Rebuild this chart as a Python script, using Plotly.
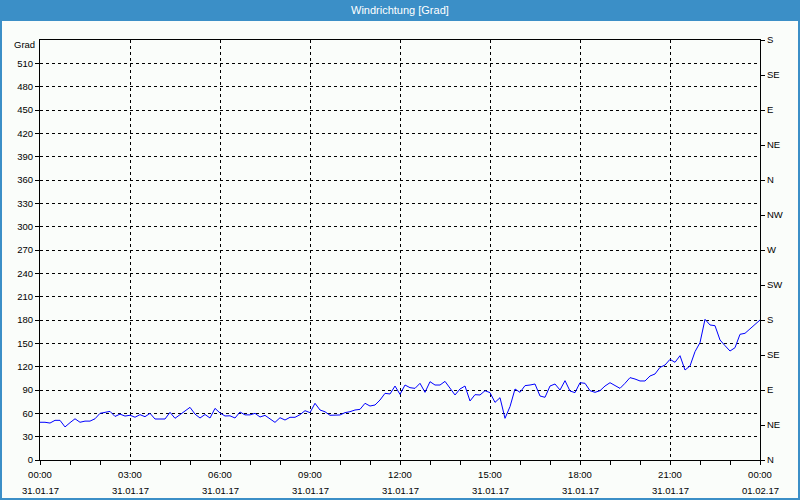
import plotly.graph_objects as go
import pandas as pd

start = "2017-01-31 00:00"
end = "2017-02-01 00:00"

# wind direction [Grad], 10-minute samples
wind_dir = [
    48.5, 48.5, 47.5, 51, 51, 42.5, 48, 53, 48.5, 50,
    50, 53, 60, 61, 62.5, 56, 59, 56.5, 57.5, 55,
    58.3, 55.7, 60, 52.7, 52.3, 52.7, 61.3, 53.6, 58.3, 63.4,
    67.7, 59, 54, 58.5, 54, 66.4, 60.5, 56.6, 56.8, 54,
    61.7, 58, 58, 60, 55.3, 57.4, 53, 48.4, 54.4, 51.4,
    54.9, 54.9, 58.3, 63.4, 60.9, 72.9, 64.3, 62, 57.5, 57.9,
    57.9, 60.9, 62.1, 64.3, 65.1, 72.9, 69.4, 70.7, 77.1, 85.7,
    84.9, 95.1, 84.4, 96.4, 93, 92.1, 98.6, 87, 100.7, 96.4,
    96.4, 101.1, 92.1, 83.6, 91.3, 95.1, 75.9, 84, 83.6, 89.1,
    86.6, 74.1, 80.1, 53.6, 68.6, 91.3, 87, 95.6, 96.4, 97.7,
    82.3, 80.6, 95.1, 97.7, 90, 102, 88.7, 86.6, 99.4, 98.6,
    89.1, 87, 89.1, 95.1, 99.4, 95.4, 92.1, 98.6, 105.9, 104.1,
    101.6, 101.6, 108, 110.6, 119.1, 122.1, 129.4, 125.6, 134.1, 115.7,
    120.9, 139.3, 150.9, 180.9, 173.6, 172.7, 154.3, 147, 140.1, 144.4,
    161.6, 162.9, 168.4, 174.4, 180,
]
times = pd.date_range(start, periods=len(wind_dir), freq="10min")

# major x ticks every 3 hours (time on the tick, date underneath)
major_ticks = pd.date_range(start, end, freq="3h")
date_labels = [t.strftime("%d.%m.%y") for t in major_ticks]

y_ticks = list(range(0, 511, 30))
compass_vals = list(range(0, 541, 45))
compass_labels = ["N", "NE", "E", "SE", "S", "SW", "W", "NW", "N", "NE", "E", "SE", "S"]

title_text = "Windrichtung [Grad]"
unit_text = "Grad"

W, H = 800, 500
ML, MR, MT, MB = 40, 40, 40, 40
PW, PH = W - ML - MR, H - MT - MB
BLUE = "#3b8fc7"
BG = "#fafdfa"
FONT = "Liberation Sans"
FS = 9.5

fig = go.Figure()
fig.add_trace(go.Scatter(x=times, y=wind_dir, mode="lines",
                         line=dict(color="#0000ff", width=1), showlegend=False))
fig.add_trace(go.Scatter(x=times, y=wind_dir, yaxis="y2", mode="lines",
                         line=dict(color="rgba(0,0,0,0)", width=0),
                         showlegend=False, hoverinfo="skip"))

grid = dict(showgrid=True, gridcolor="#000000", gridwidth=1, griddash="3px,3px")

annotations = [
    dict(text=title_text, xref="paper", yref="paper", x=0.5, y=1 + (MT - 10) / PH,
         xanchor="center", yanchor="middle", showarrow=False,
         font=dict(family=FONT, size=11, color="#ffffff")),
    dict(text=unit_text, xref="paper", yref="y", x=0, y=540,
         xanchor="right", yanchor="middle", xshift=-3, yshift=-4,
         showarrow=False, font=dict(family=FONT, size=FS, color="#000000")),
]
for t, lab in zip(major_ticks, date_labels):
    annotations.append(dict(text=lab, xref="x", yref="paper", x=t, y=-30 / PH,
                            xanchor="center", yanchor="middle", showarrow=False,
                            font=dict(family=FONT, size=FS, color="#000000")))

fig.update_layout(
    width=W, height=H, autosize=False,
    margin=dict(l=ML, r=MR, t=MT, b=MB, pad=0, autoexpand=False),
    paper_bgcolor=BG, plot_bgcolor=BG,
    font=dict(family=FONT, size=FS, color="#000000"),
    xaxis=dict(
        type="date", range=[start, end],
        tick0=start, dtick=3 * 3600 * 1000,
        tickformat="%H:%M",
        ticks="outside", ticklen=4, tickcolor="#000000",
        ticklabelstandoff=2,
        showline=True, linecolor="#000000", linewidth=1, mirror=True,
        zeroline=False, automargin=False,
        minor=dict(dtick=3600 * 1000, ticks="outside", ticklen=4,
                   tickcolor="#000000", showgrid=False),
        tickfont=dict(size=FS),
        **grid,
    ),
    yaxis=dict(
        range=[0, 540], tickvals=y_ticks,
        ticks="outside", ticklen=4, tickcolor="#000000",
        showline=True, linecolor="#000000", linewidth=1, mirror=True,
        zeroline=False, automargin=False, tickfont=dict(size=FS),
        **grid,
    ),
    yaxis2=dict(
        overlaying="y", side="right", range=[0, 540],
        tickvals=compass_vals, ticktext=compass_labels,
        ticks="outside", ticklen=4, tickcolor="#000000",
        showgrid=False, showline=False, zeroline=False, automargin=False,
        tickfont=dict(size=FS),
    ),
    shapes=[
        dict(type="rect", xref="paper", yref="paper",
             x0=-ML / PW, x1=1 + MR / PW, y0=1 + (MT - 20) / PH, y1=1 + MT / PH,
             fillcolor=BLUE, line=dict(width=0), layer="above"),
        dict(type="rect", xref="paper", yref="paper",
             x0=-(ML - 1) / PW, x1=1 + (MR - 1) / PW,
             y0=-(MB - 1) / PH, y1=1 + (MT - 20) / PH,
             line=dict(color=BLUE, width=2), fillcolor="rgba(0,0,0,0)"),
    ],
    annotations=annotations,
)

fig.write_html("out.html", config={"displayModeBar": False},
               post_script="document.body.style.margin='0';")
